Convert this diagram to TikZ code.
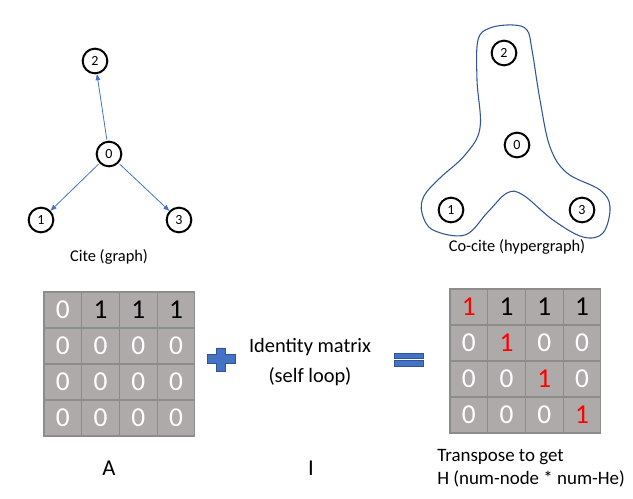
\documentclass[tikz,border=0pt]{standalone}
\usepackage{fontspec}
\setmainfont{Carlito}
\usetikzlibrary{arrows.meta,positioning,calc}
\definecolor{edgeblue}{HTML}{4472C4}
\definecolor{hullblue}{HTML}{2F5597}
\definecolor{cellgray}{HTML}{AEAAAA}
\definecolor{gridgray}{HTML}{8C8C8C}

\begin{document}
\begin{tikzpicture}[x=0.75pt,y=-0.75pt,
    vertex/.style={circle, draw, line width=1.5pt, minimum size=18.5pt, inner sep=0pt, font=\fontsize{10.5}{12}\selectfont},
    cite/.style={-{Triangle[length=4.5pt,width=3.5pt]}, edgeblue, line width=0.6pt, shorten <=1pt},
    cell/.style={rectangle, draw=gridgray, fill=cellgray, line width=0.8pt, minimum width=28.3pt, minimum height=27pt, inner sep=0pt, font=\fontsize{20.5}{24}\selectfont},
    caption/.style={font=\fontsize{12.3}{14}\selectfont}]
    \useasboundingbox (0,0) rectangle (633,499);

    % Cite graph
    \node[vertex] (c0) at (109,154) {0};
    \node[vertex] (c1) at (41,220) {1};
    \node[vertex] (c2) at (95,61) {2};
    \node[vertex] (c3) at (179,220) {3};
    \draw[cite] (c0) -- (c2);
    \draw[cite] (c0) -- (c1);
    \draw[cite] (c0) -- (c3);
    \node[caption] (citelabel) at (109,257) {Cite (graph)};

    % Co-cite hypergraph
    \draw[hullblue, line width=0.8pt] plot[smooth cycle, tension=0.6] coordinates {
        (513,25) (490,28) (478,40) (477,80) (480,128) (465,155) (440,178) (424,196)
        (422,213) (433,230) (465,235) (487,213) (507,193) (523,195) (553,220)
        (583,237) (603,233) (610,207) (600,190) (567,173) (550,147) (540,100)
        (532,50) (527,30)};
    \node[vertex] (h0) at (517,145) {0};
    \node[vertex] (h1) at (451,210) {1};
    \node[vertex] (h2) at (504,53) {2};
    \node[vertex] (h3) at (582,210) {3};
    \node[caption] (cocitelabel) at (517,247) {Co-cite (hypergraph)};

    % Adjacency matrix A
    \foreach \row [count=\r] in {{0,1,1,1},{0,0,0,0},{0,0,0,0},{0,0,0,0}} {
        \foreach \v [count=\c] in \row {
            \ifnum\v=1 \def\col{black}\else\def\col{white}\fi
            \node[cell, text=\col] (a-\r-\c) at ({44+37.7*(\c-0.5)},{292+36*(\r-0.5)}) {\v};
        }
    }
    \node[font=\fontsize{17}{20}\selectfont] (alabel) at (109,468) {A};

    % Plus sign
    \fill[edgeblue, draw=hullblue, line width=0.5pt]
        (207,354.5) -- (216.5,354.5) -- (216.5,348) -- (225.5,348) -- (225.5,354.5) -- (235,354.5)
        -- (235,363.5) -- (225.5,363.5) -- (225.5,371) -- (216.5,371) -- (216.5,363.5) -- (207,363.5) -- cycle;

    % Identity matrix
    \node[align=center, font=\fontsize{15.3}{22.5}\selectfont] (ident) at (310,362) {Identity matrix\\(self loop)};
    \node[font=\fontsize{17}{20}\selectfont] (ilabel) at (311,468) {I};

    % Equals sign
    \fill[edgeblue, draw=hullblue, line width=0.5pt] (394,353) rectangle (423,358.5);
    \fill[edgeblue, draw=hullblue, line width=0.5pt] (394,360.5) rectangle (423,366);

    % Incidence matrix H^T
    \foreach \row [count=\r] in {{2,1,1,1},{0,2,0,0},{0,0,2,0},{0,0,0,2}} {
        \foreach \v [count=\c] in \row {
            \ifcase\v \def\col{white}\def\txt{0}\or \def\col{black}\def\txt{1}\else \def\col{red}\def\txt{1}\fi
            \node[cell, text=\col] (h-\r-\c) at ({450+37.7*(\c-0.5)},{289+36*(\r-0.5)}) {\txt};
        }
    }
    \node[align=left, anchor=north west, inner sep=0pt, font=\fontsize{14.2}{17.3}\selectfont] (hlabel) at (437,449) {Transpose to get\\H (num-node * num-He)};
\end{tikzpicture}
\end{document}
